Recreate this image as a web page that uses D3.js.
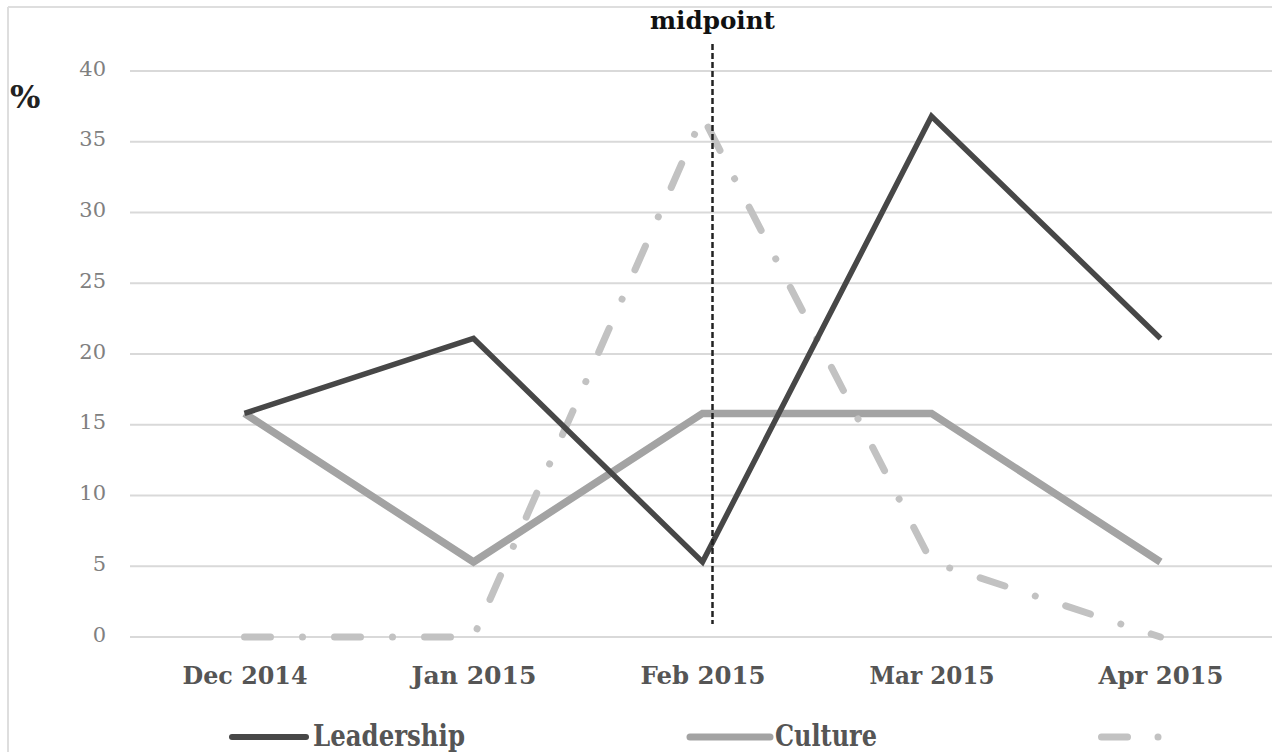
<!DOCTYPE html>
<html>
<head>
<meta charset="utf-8">
<script src="https://cdn.jsdelivr.net/npm/d3@7"></script>
<style>
  html, body { margin: 0; padding: 0; background: #fff; }
  svg { display: block; }
</style>
</head>
<body>
<svg id="chart" width="1272" height="752"></svg>
<script>
// Monthly share (%) of mentions per theme
const months = ["Dec 2014", "Jan 2015", "Feb 2015", "Mar 2015", "Apr 2015"];
const leadership = [15.8, 21.1, 5.3, 36.8, 21.1];
const culture = [15.8, 5.3, 15.8, 15.8, 5.3];
const thirdTheme = [0, 0, 36.8, 5.3, 0];
const yTicks = [0, 5, 10, 15, 20, 25, 30, 35, 40];
const legendLabels = ["Leadership", "Culture", ""];
const midpointLabel = "midpoint";

const svg = d3.select("#chart");
const W = 1272, H = 752;
const serif = "'DejaVu Serif', 'Liberation Serif', serif";

// frame edges
svg.append("line").attr("x1", 8).attr("x2", W).attr("y1", 7).attr("y2", 7)
  .attr("stroke", "#dedede").attr("stroke-width", 2);
svg.append("line").attr("x1", 8).attr("x2", 8).attr("y1", 7).attr("y2", H)
  .attr("stroke", "#dedede").attr("stroke-width", 2);

const x = d3.scalePoint().domain(months).range([130, 1275]).padding(0.5);
const y = d3.scaleLinear().domain([0, 40]).range([637, 71]);

// horizontal gridlines
svg.append("g").selectAll("line").data(yTicks).join("line")
  .attr("x1", 130).attr("x2", W)
  .attr("y1", d => y(d)).attr("y2", d => y(d))
  .attr("stroke", "#d9d9d9").attr("stroke-width", 2);

// y axis labels
const yAxis = svg.append("g").attr("transform", "translate(106,0)")
  .call(d3.axisLeft(y).tickValues(yTicks).tickSize(0).tickPadding(0));
yAxis.select(".domain").remove();
yAxis.selectAll("text")
  .attr("font-family", serif).attr("font-size", 21).attr("fill", "#808080")
  .attr("dy", "0.2em");

// x axis labels
const xAxis = svg.append("g").attr("transform", "translate(0,684)")
  .call(d3.axisBottom(x).tickSize(0).tickPadding(0));
xAxis.select(".domain").remove();
xAxis.selectAll("text")
  .attr("dy", 0)
  .attr("font-family", serif).attr("font-size", 25).attr("font-weight", "bold")
  .attr("fill", "#555").attr("textLength", 125).attr("lengthAdjust", "spacingAndGlyphs");

// unit label
svg.append("text").attr("x", 10).attr("y", 108).text("%")
  .attr("font-family", serif).attr("font-size", 32).attr("font-weight", "bold")
  .attr("fill", "#222");

const line = d3.line().x((d, i) => x(months[i])).y(d => y(d));

// series
const seriesDefs = [
  { values: culture, color: "#a3a3a3", width: 7.5, dash: null, cap: "butt" },
  { values: thirdTheme, color: "#c2c2c2", width: 7, dash: "26,32,0.01,32", cap: "round" },
  { values: leadership, color: "#474747", width: 5.5, dash: null, cap: "butt" }
];
const plot = svg.append("g").style("filter", "blur(0.6px)");
plot.selectAll("path").data(seriesDefs).join("path")
  .attr("d", d => line(d.values))
  .attr("fill", "none")
  .attr("stroke", d => d.color)
  .attr("stroke-width", d => d.width)
  .attr("stroke-dasharray", d => d.dash)
  .attr("stroke-linecap", d => d.cap)
  .attr("stroke-linejoin", "miter");

// midpoint marker
const midX = x("Feb 2015") + 10;
svg.append("line").attr("x1", midX).attr("x2", midX).attr("y1", 44).attr("y2", 624)
  .attr("stroke", "#222").attr("stroke-width", 2.5).attr("stroke-dasharray", "6,3");
svg.append("text").attr("x", midX).attr("y", 29).attr("text-anchor", "middle")
  .text(midpointLabel)
  .attr("font-family", serif).attr("font-size", 25).attr("font-weight", "bold")
  .attr("fill", "#111").attr("textLength", 125).attr("lengthAdjust", "spacingAndGlyphs");

// legend
const legendItems = [
  { label: legendLabels[0], color: "#474747", x0: 232, x1: 306, dash: null, width: 6, tx: 313, tw: 152 },
  { label: legendLabels[1], color: "#a3a3a3", x0: 690, x1: 770, dash: null, width: 7, tx: 775, tw: 102 },
  { label: legendLabels[2], color: "#c2c2c2", x0: 1101.5, x1: 1160, dash: "26,30.5,0.01,40", width: 7, tx: 1170, tw: 0 }
];
const lg = svg.append("g");
lg.selectAll("line").data(legendItems).join("line")
  .attr("x1", d => d.x0).attr("x2", d => d.x1).attr("y1", 737).attr("y2", 737)
  .attr("stroke", d => d.color).attr("stroke-width", d => d.width)
  .attr("stroke-dasharray", d => d.dash)
  .attr("stroke-linecap", "round");
lg.selectAll("text").data(legendItems.filter(d => d.label)).join("text")
  .attr("x", d => d.tx).attr("y", 746)
  .text(d => d.label)
  .attr("font-family", serif).attr("font-size", 30).attr("font-weight", "bold")
  .attr("fill", "#555")
  .attr("textLength", d => d.tw).attr("lengthAdjust", "spacingAndGlyphs");
</script>
</body>
</html>
